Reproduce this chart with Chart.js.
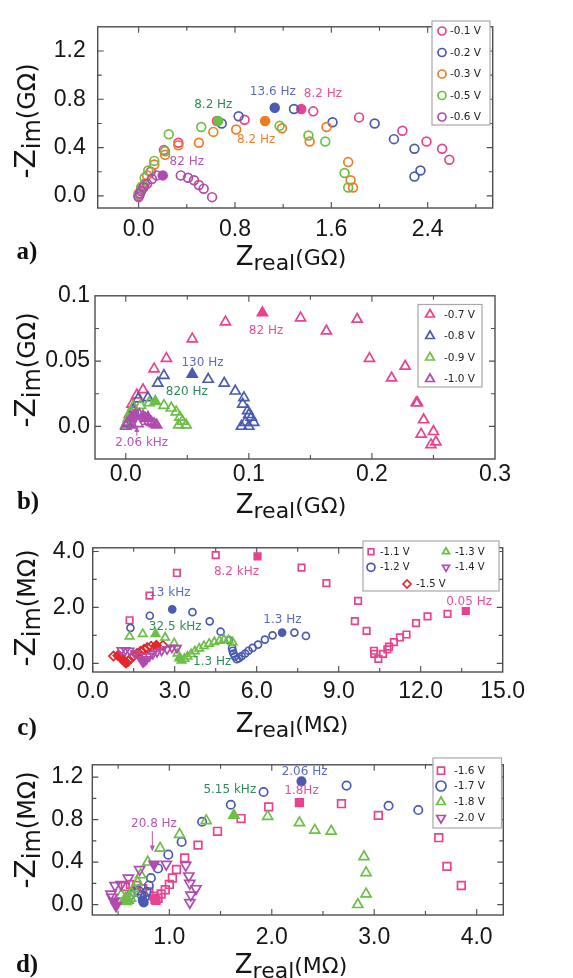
<!DOCTYPE html>
<html>
<head>
<meta charset="utf-8">
<script src="https://cdn.jsdelivr.net/npm/chart.js@4.4.1/dist/chart.umd.min.js"></script>
<style>
  body { margin: 0; background: #fff; width: 573px; height: 978px; position: relative; overflow: hidden; }
  canvas { position: absolute; }
  .ttl { position: absolute; white-space: nowrap; color: #151515; line-height: 1; font-family: 'DejaVu Sans', sans-serif; }
  .ttl.x { transform: translate(-50%, -50%); }
  .ttl.y { transform: translate(-50%, -50%) rotate(-90deg); }
  .ttl .b { font-size: 26px; }
  .ttl .s { font-size: 22px; position: relative; top: 5px; }
  .ttl .u { font-size: 22px; }
  .ttl.y .b { font-size: 28px; }
  .ttl.y .s, .ttl.y .u { font-size: 24px; }
  .tag { position: absolute; transform: translate(-50%, -50%); font-family: 'Liberation Serif', 'Times New Roman', serif; font-weight: bold; font-size: 25px; color: #111; }
</style>
</head>
<body>
<canvas id="pa"></canvas>
<canvas id="pb"></canvas>
<canvas id="pc"></canvas>
<canvas id="pd"></canvas>

<div class="ttl y" style="left:26px;top:121px"><span class="b">-Z</span><span class="s">im</span><span class="u">(GΩ)</span></div>
<div class="ttl x" style="left:291px;top:256px"><span class="b">Z</span><span class="s">real</span><span class="u">(GΩ)</span></div>
<div class="tag" style="left:27px;top:251px">a)</div>

<div class="ttl y" style="left:26px;top:370px"><span class="b">-Z</span><span class="s">im</span><span class="u">(GΩ)</span></div>
<div class="ttl x" style="left:291px;top:504px"><span class="b">Z</span><span class="s">real</span><span class="u">(GΩ)</span></div>
<div class="tag" style="left:28px;top:501px">b)</div>

<div class="ttl y" style="left:26px;top:608px"><span class="b">-Z</span><span class="s">im</span><span class="u">(MΩ)</span></div>
<div class="ttl x" style="left:292px;top:723px"><span class="b">Z</span><span class="s">real</span><span class="u">(MΩ)</span></div>
<div class="tag" style="left:27px;top:727px">c)</div>

<div class="ttl y" style="left:26px;top:830px"><span class="b">-Z</span><span class="s">im</span><span class="u">(MΩ)</span></div>
<div class="ttl x" style="left:291px;top:964px"><span class="b">Z</span><span class="s">real</span><span class="u">(MΩ)</span></div>
<div class="tag" style="left:27px;top:964px">d)</div>

<script>
// ---- panel a: Nyquist data, GΩ ----
const aXTicks = [0, 0.8, 1.6, 2.4];
const aXLabels = ['0.0', '0.8', '1.6', '2.4'];
const aYTicks = [0, 0.4, 0.8, 1.2];
const aYLabels = ['0.0', '0.4', '0.8', '1.2'];
const aXMarks = [0, 0.4, 0.8, 1.2, 1.6, 2.0, 2.4, 2.8];
const aYMarks = [0, 0.2, 0.4, 0.6, 0.8, 1.0, 1.2];

const aV01 = [[0.00,0.00],[0.02,0.04],[0.05,0.10],[0.10,0.20],[0.21,0.38],[0.33,0.44],[0.65,0.62],[0.88,0.63],[1.35,0.72],[1.45,0.70],[1.83,0.65],[2.19,0.54],[2.39,0.45],[2.52,0.39],[2.58,0.30]];
const aV02 = [[0.01,0.02],[0.04,0.08],[0.69,0.60],[0.83,0.66],[1.13,0.73],[1.29,0.72],[1.61,0.61],[1.96,0.60],[2.12,0.47],[2.29,0.39],[2.34,0.21],[2.29,0.16]];
const aV03 = [[0.00,0.02],[0.03,0.08],[0.07,0.17],[0.13,0.26],[0.22,0.34],[0.33,0.42],[0.50,0.44],[0.62,0.53],[0.81,0.55],[1.05,0.62],[1.19,0.56],[1.42,0.45],[1.56,0.57],[1.74,0.28],[1.76,0.13],[1.78,0.07]];
const aV05 = [[0.00,0.01],[0.02,0.07],[0.05,0.15],[0.08,0.21],[0.13,0.29],[0.22,0.37],[0.25,0.51],[0.52,0.57],[0.66,0.62],[1.17,0.58],[1.41,0.50],[1.55,0.45],[1.71,0.19],[1.74,0.07]];
const aV06 = [[0.00,-0.01],[0.01,0.02],[0.02,0.04],[0.04,0.07],[0.07,0.10],[0.11,0.14],[0.15,0.17],[0.20,0.17],[0.35,0.17],[0.41,0.15],[0.46,0.13],[0.50,0.09],[0.54,0.06],[0.61,-0.01]];

// ---- panel b ----
const bXTicks = [0, 0.1, 0.2, 0.3];
const bXLabels = ['0.0', '0.1', '0.2', '0.3'];
const bYTicks = [0, 0.05, 0.1];
const bYLabels = ['0.0', '0.05', '0.1'];
const bXMarks = [0, 0.05, 0.1, 0.15, 0.2, 0.25];
const bYMarks = [0, 0.025, 0.05, 0.075];

const bV07 = [[0.001,0.003],[0.003,0.009],[0.005,0.017],[0.009,0.024],[0.014,0.028],[0.023,0.044],[0.033,0.052],[0.054,0.067],[0.081,0.080],[0.111,0.087],[0.142,0.083],[0.163,0.073],[0.188,0.082],[0.198,0.052],[0.216,0.037],[0.227,0.046],[0.236,0.018],[0.237,0.018],[0.242,0.005],[0.240,-0.006],[0.250,-0.004],[0.248,-0.014],[0.252,-0.012]];
const bV08 = [[0.001,0.002],[0.003,0.007],[0.006,0.013],[0.010,0.021],[0.018,0.022],[0.026,0.033],[0.031,0.039],[0.054,0.040],[0.067,0.036],[0.080,0.033],[0.089,0.027],[0.096,0.022],[0.095,0.017],[0.099,0.012],[0.100,0.009],[0.102,0.007],[0.104,0.003],[0.097,0.003],[0.094,0.000],[0.100,0.000]];
const bV09 = [[0.000,0.001],[0.002,0.006],[0.004,0.011],[0.006,0.015],[0.012,0.016],[0.019,0.018],[0.024,0.019],[0.031,0.016],[0.037,0.014],[0.041,0.011],[0.044,0.007],[0.046,0.004],[0.043,0.001],[0.049,0.001]];
const bV10 = [[0.000,0.000],[0.002,0.003],[0.004,0.006],[0.006,0.008],[0.008,0.009],[0.011,0.009],[0.014,0.008],[0.016,0.006],[0.018,0.007],[0.019,0.004],[0.021,0.003],[0.023,0.002],[0.025,0.001],[0.010,0.002],[0.005,0.001]];

// ---- panel c: MΩ ----
const cXTicks = [0, 3, 6, 9, 12, 15];
const cXLabels = ['0.0', '3.0', '6.0', '9.0', '12.0', '15.0'];
const cYTicks = [0, 2, 4];
const cYLabels = ['0.0', '2.0', '4.0'];
const cXMarks = [0, 1.5, 3, 4.5, 6, 7.5, 9, 10.5, 12, 13.5];
const cYMarks = [0, 1, 2, 3, 4];

const cV11 = [[1.35,1.54],[2.08,2.42],[3.08,3.23],[4.50,3.87],[6.03,3.82],[7.64,3.42],[8.55,2.87],[9.71,2.23],[9.59,1.51],[10.02,1.16],[10.29,0.45],[10.30,0.34],[10.45,0.16],[10.62,0.34],[10.78,0.50],[10.84,0.60],[11.02,0.76],[11.24,0.93],[11.48,1.03],[11.83,1.44],[12.25,1.68],[12.98,1.77],[13.65,1.87]];
const cV12 = [[1.38,1.27],[2.09,1.70],[2.91,1.93],[3.65,1.83],[4.28,1.50],[4.68,1.13],[4.98,0.83],[5.10,0.55],[5.12,0.45],[5.15,0.35],[5.20,0.25],[5.27,0.15],[5.35,0.18],[5.45,0.26],[5.58,0.35],[5.70,0.45],[5.85,0.55],[6.05,0.67],[6.30,0.85],[6.58,1.00],[6.93,1.10],[7.38,1.10],[7.80,0.98]];
const cV13 = [[1.35,0.96],[1.83,1.05],[2.30,1.05],[2.65,0.92],[2.98,0.72],[3.10,0.35],[3.16,0.18],[3.25,0.10],[3.36,0.16],[3.47,0.24],[3.60,0.33],[3.74,0.43],[3.90,0.53],[4.07,0.62],[4.26,0.70],[4.45,0.76],[4.64,0.81],[4.80,0.85],[4.97,0.83],[5.12,0.75]];
const cV14 = [[1.05,0.47],[1.20,0.47],[1.35,0.45],[1.55,0.35],[1.70,0.25],[1.78,0.12],[1.84,0.04],[1.90,0.08],[1.97,0.15],[2.08,0.25],[2.20,0.33],[2.35,0.40],[2.52,0.45],[2.72,0.50],[2.90,0.56],[3.08,0.55]];
const cV15 = [[0.76,0.26],[0.92,0.28],[1.00,0.24],[1.08,0.15],[1.17,0.06],[1.22,0.01],[1.30,0.08],[1.40,0.18],[1.50,0.27],[1.62,0.35],[1.75,0.43],[1.88,0.50],[2.00,0.56],[2.14,0.61],[2.33,0.64],[2.57,0.64]];

// ---- panel d: MΩ ----
const dXTicks = [1, 2, 3, 4];
const dXLabels = ['1.0', '2.0', '3.0', '4.0'];
const dYTicks = [0, 0.4, 0.8, 1.2];
const dYLabels = ['0.0', '0.4', '0.8', '1.2'];
const dXMarks = [0.5, 1, 1.5, 2, 2.5, 3, 3.5, 4];
const dYMarks = [0, 0.2, 0.4, 0.6, 0.8, 1.0, 1.2];

const dV16 = [[0.57,0.17],[0.62,0.19],[0.68,0.18],[0.74,0.15],[0.80,0.12],[0.85,0.08],[0.86,0.05],[0.87,0.04],[0.89,0.06],[0.92,0.10],[0.96,0.14],[1.00,0.19],[1.03,0.25],[1.07,0.33],[1.15,0.44],[1.28,0.56],[1.47,0.69],[1.70,0.81],[1.97,0.92],[2.27,0.96],[2.68,0.95],[3.04,0.84],[3.63,0.63],[3.71,0.36],[3.85,0.18]];
const dV17 = [[0.62,0.09],[0.66,0.12],[0.70,0.13],[0.73,0.09],[0.74,0.04],[0.75,0.02],[0.76,0.07],[0.78,0.12],[0.80,0.18],[0.82,0.25],[0.89,0.34],[0.99,0.47],[1.12,0.59],[1.32,0.78],[1.60,0.94],[1.92,1.06],[2.29,1.16],[2.73,1.12],[3.14,0.93],[3.43,0.89]];
const dV18 = [[0.53,0.09],[0.57,0.06],[0.58,0.03],[0.60,0.04],[0.62,0.06],[0.63,0.11],[0.65,0.15],[0.69,0.21],[0.72,0.28],[0.79,0.40],[0.91,0.53],[1.10,0.66],[1.36,0.79],[1.63,0.84],[1.96,0.83],[2.27,0.77],[2.42,0.70],[2.58,0.69],[2.90,0.45],[2.92,0.30],[2.92,0.10],[2.84,0.00]];
const dV20 = [[0.48,-0.01],[0.46,0.03],[0.44,0.07],[0.43,0.10],[0.47,0.18],[0.53,0.19],[0.60,0.25],[0.71,0.33],[0.85,0.38],[0.97,0.38],[1.16,0.37],[1.19,0.27],[1.20,0.20],[1.26,0.15],[1.21,0.09],[1.20,0.02]];

const PINK = '#e8438f', BLUE = '#4a5bb0', ORANGE = '#f27b22', GREEN = '#6dbf45', PURPLE = '#b04cae', RED = '#e4262c';
const T_PINK = '#ec4e98', T_BLUE = '#5b6cc0', T_GREEN = '#2f8a58', T_ORANGE = '#f0812f', T_PURPLE = '#b657b4';

const TICK_FONT = "'Liberation Sans', Arial, sans-serif";
const NOTE_FONT = "'DejaVu Sans', sans-serif";

// one scatter dataset; `filled` lists indices drawn as solid markers
function series(label, pts, color, style, r, filled, rot) {
  return {
    label,
    data: pts.map(([x, y]) => ({ x, y })),
    pointStyle: style,
    pointRadius: r,
    pointHoverRadius: r,
    pointBorderWidth: 1.7,
    pointRotation: rot || 0,
    pointBorderColor: color,
    borderColor: color,
    pointBackgroundColor: pts.map((_, i) => filled.includes(i) ? color : 'rgba(0,0,0,0)'),
    showLine: false
  };
}

function drawMarker(ctx, style, rot, r, color, x, y) {
  ctx.save();
  ctx.strokeStyle = color;
  ctx.fillStyle = 'rgba(0,0,0,0)';
  ctx.lineWidth = 1.7;
  Chart.helpers.drawPoint(ctx, { pointStyle: style, rotation: rot, radius: r, borderWidth: 1.7 }, x, y);
  ctx.restore();
}

function buildPanel(id, p) {
  const cl = 30, ct = p.top - 14, axisH = 46;
  const canvas = document.getElementById(id);
  const W = 573 - cl, H = p.bottom - p.top + 14 + axisH;
  canvas.width = W; canvas.height = H;
  canvas.style.left = cl + 'px';
  canvas.style.top = ct + 'px';

  // box outline plus inward tick marks on all four sides
  const frame = {
    id: 'frame',
    beforeDatasetsDraw(chart) {
      const { ctx, chartArea: a, scales: { x, y } } = chart;
      ctx.save();
      ctx.strokeStyle = '#4d4d4d';
      ctx.lineWidth = 1.4;
      ctx.strokeRect(a.left, a.top, a.width, a.height);
      ctx.lineWidth = 1.1;
      ctx.beginPath();
      p.xMarks.forEach(v => {
        const px = x.getPixelForValue(v);
        const len = p.xTicks.some(t => Math.abs(t - v) < 1e-9) ? 6 : 4;
        ctx.moveTo(px, a.bottom); ctx.lineTo(px, a.bottom - len);
        ctx.moveTo(px, a.top); ctx.lineTo(px, a.top + len);
      });
      p.yMarks.forEach(v => {
        const py = y.getPixelForValue(v);
        const len = p.yTicks.some(t => Math.abs(t - v) < 1e-9) ? 6 : 4;
        ctx.moveTo(a.left, py); ctx.lineTo(a.left + len, py);
        ctx.moveTo(a.right, py); ctx.lineTo(a.right - len, py);
      });
      ctx.stroke();
      ctx.restore();
    }
  };

  // frequency labels and arrows, placed in data coordinates
  const notes = {
    id: 'notes',
    afterDatasetsDraw(chart) {
      const { ctx, scales: { x, y } } = chart;
      ctx.save();
      ctx.font = p.noteSize + 'px ' + NOTE_FONT;
      ctx.textAlign = 'center';
      ctx.textBaseline = 'middle';
      p.notes.forEach(([text, vx, vy, color]) => {
        ctx.fillStyle = color;
        ctx.fillText(text, x.getPixelForValue(vx), y.getPixelForValue(vy));
      });
      (p.arrows || []).forEach(([vx, y0, y1, color]) => {
        const px = x.getPixelForValue(vx), p0 = y.getPixelForValue(y0), p1 = y.getPixelForValue(y1);
        const dir = Math.sign(p1 - p0);
        ctx.strokeStyle = color; ctx.fillStyle = color; ctx.lineWidth = 1;
        ctx.beginPath(); ctx.moveTo(px, p0); ctx.lineTo(px, p1 - dir * 4); ctx.stroke();
        ctx.beginPath(); ctx.moveTo(px, p1); ctx.lineTo(px - 2.5, p1 - dir * 6); ctx.lineTo(px + 2.5, p1 - dir * 6); ctx.closePath(); ctx.fill();
      });
      ctx.restore();
    }
  };

  // boxed legend inside the plot, page coordinates shifted to the canvas
  const legend = {
    id: 'boxLegend',
    afterDraw(chart) {
      const { ctx } = chart;
      const L = p.legend;
      ctx.save();
      ctx.translate(-cl, -ct);
      ctx.fillStyle = '#fff';
      ctx.fillRect(L.box[0], L.box[1], L.box[2] - L.box[0], L.box[3] - L.box[1]);
      ctx.strokeStyle = '#a8a8a8';
      ctx.lineWidth = 1.2;
      ctx.strokeRect(L.box[0], L.box[1], L.box[2] - L.box[0], L.box[3] - L.box[1]);
      ctx.font = L.font + 'px ' + NOTE_FONT;
      ctx.textAlign = 'left';
      ctx.textBaseline = 'middle';
      L.items.forEach(([label, color, style, rot, mx, my]) => {
        drawMarker(ctx, style, rot, L.r, color, mx, my);
        ctx.fillStyle = '#222';
        ctx.fillText(label, mx + L.gap, my + 0.5);
      });
      ctx.restore();
    }
  };

  const tickFont = { family: TICK_FONT, size: 23 };
  new Chart(canvas, {
    type: 'scatter',
    data: { datasets: p.datasets },
    options: {
      responsive: false,
      animation: false,
      devicePixelRatio: 1,
      layout: { padding: { top: 14, right: 573 - p.right, left: 0, bottom: 0 } },
      plugins: { legend: { display: false }, tooltip: { enabled: false } },
      scales: {
        x: {
          type: 'linear', min: p.xMin, max: p.xMax,
          grid: { display: false, drawTicks: false }, border: { display: false },
          afterBuildTicks: s => { s.ticks = p.xTicks.map(v => ({ value: v })); },
          afterFit: s => { s.height = axisH; },
          ticks: { padding: p.xPad, color: '#161616', font: tickFont, maxRotation: 0, autoSkip: false,
                   callback: (v, i) => p.xLabels[i] }
        },
        y: {
          type: 'linear', min: p.yMin, max: p.yMax,
          grid: { display: false, drawTicks: false }, border: { display: false },
          afterBuildTicks: s => { s.ticks = p.yTicks.map(v => ({ value: v })); },
          afterFit: s => { s.width = p.left - cl; },
          ticks: { padding: p.yPad, color: '#161616', font: tickFont, autoSkip: false,
                   callback: (v, i) => p.yLabels[i] }
        }
      }
    },
    plugins: [frame, notes, legend]
  });
}

buildPanel('pa', {
  left: 97.7, right: 492.7, top: 15, bottom: 208,
  xMin: -0.34, xMax: 2.94, yMin: -0.1, yMax: 1.4,
  xTicks: aXTicks, xLabels: aXLabels, yTicks: aYTicks, yLabels: aYLabels, xMarks: aXMarks, yMarks: aYMarks,
  xPad: 8, yPad: 12,
  datasets: [
    series('-0.6 V', aV06, PURPLE, 'circle', 4.4, [7]),
    series('-0.5 V', aV05, GREEN, 'circle', 4.4, [8]),
    series('-0.3 V', aV03, ORANGE, 'circle', 4.4, [9]),
    series('-0.2 V', aV02, BLUE, 'circle', 4.4, [4]),
    series('-0.1 V', aV01, PINK, 'circle', 4.4, [8])
  ],
  noteSize: 12,
  notes: [
    ['13.6 Hz', 1.114, 0.86, T_BLUE],
    ['8.2 Hz', 1.53, 0.843, T_PINK],
    ['8.2 Hz', 0.62, 0.75, T_GREEN],
    ['8.2 Hz', 0.976, 0.463, T_ORANGE],
    ['82 Hz', 0.40, 0.285, T_PURPLE]
  ],
  legend: { box: [432, 21, 490, 125], font: 10.5, r: 4, gap: 8, items: [
    ['-0.1 V', PINK, 'circle', 0, 442, 31],
    ['-0.2 V', BLUE, 'circle', 0, 442, 52.5],
    ['-0.3 V', ORANGE, 'circle', 0, 442, 74],
    ['-0.5 V', GREEN, 'circle', 0, 442, 95.5],
    ['-0.6 V', PURPLE, 'circle', 0, 442, 117]
  ] }
});

buildPanel('pb', {
  left: 95, right: 495, top: 291, bottom: 459.3,
  xMin: -0.025, xMax: 0.3, yMin: -0.025, yMax: 0.1,
  xTicks: bXTicks, xLabels: bXLabels, yTicks: bYTicks, yLabels: bYLabels, xMarks: bXMarks, yMarks: bYMarks,
  xPad: 2, yPad: 5,
  datasets: [
    series('-1.0 V', bV10, PURPLE, 'triangle', 5.8, [4, 6, 8]),
    series('-0.9 V', bV09, GREEN, 'triangle', 5.8, [6]),
    series('-0.8 V', bV08, BLUE, 'triangle', 5.8, [7]),
    series('-0.7 V', bV07, PINK, 'triangle', 5.8, [9])
  ],
  noteSize: 12,
  notes: [
    ['82 Hz', 0.114, 0.0728, T_PINK],
    ['130 Hz', 0.0623, 0.0489, T_BLUE],
    ['820 Hz', 0.0496, 0.0261, T_GREEN],
    ['2.06 kHz', 0.013, -0.0128, T_PURPLE]
  ],
  arrows: [[0.009, -0.0072, 0.0002, T_PURPLE]],
  legend: { box: [418, 304.5, 482, 387], font: 10.5, r: 5, gap: 14, items: [
    ['-0.7 V', PINK, 'triangle', 0, 430, 314.5],
    ['-0.8 V', BLUE, 'triangle', 0, 430, 336],
    ['-0.9 V', GREEN, 'triangle', 0, 430, 357.5],
    ['-1.0 V', PURPLE, 'triangle', 0, 430, 379]
  ] }
});

buildPanel('pc', {
  left: 92.7, right: 502.7, top: 540, bottom: 672.7,
  xMin: 0, xMax: 15, yMin: -0.31, yMax: 4.13,
  xTicks: cXTicks, xLabels: cXLabels, yTicks: cYTicks, yLabels: cYLabels, xMarks: cXMarks, yMarks: cYMarks,
  xPad: 6, yPad: 8,
  datasets: [
    series('-1.4 V', cV14, PURPLE, 'triangle', 4.8, [5, 6, 7], 180),
    series('-1.3 V', cV13, GREEN, 'triangle', 4.8, [2, 6, 7]),
    series('-1.2 V', cV12, BLUE, 'circle', 3.5, [2, 20]),
    series('-1.5 V', cV15, RED, 'rectRot', 4.6, [1, 3, 4, 5, 14]),
    series('-1.1 V', cV11, PINK, 'rect', 4.6, [4, 22])
  ],
  noteSize: 12,
  notes: [
    ['8.2 kHz', 5.26, 3.26, T_PINK],
    ['13 kHz', 2.82, 2.53, T_BLUE],
    ['32.5 kHz', 3.02, 1.31, T_GREEN],
    ['1.3 Hz', 6.94, 1.56, T_BLUE],
    ['1.3 Hz', 4.37, 0.06, T_GREEN],
    ['0.05 Hz', 13.77, 2.18, T_PINK]
  ],
  legend: { box: [363, 541, 499, 591], font: 10, r: 4, gap: 9, items: [
    ['-1.1 V', PINK, 'rect', 0, 371, 551.7],
    ['-1.2 V', BLUE, 'circle', 0, 371, 567.3],
    ['-1.3 V', GREEN, 'triangle', 0, 446, 551.7],
    ['-1.4 V', PURPLE, 'triangle', 180, 446, 567.3],
    ['-1.5 V', RED, 'rectRot', 0, 407, 584]
  ] }
});

buildPanel('pd', {
  left: 92.3, right: 503.3, top: 756, bottom: 915,
  xMin: 0.248, xMax: 4.26, yMin: -0.098, yMax: 1.316,
  xTicks: dXTicks, xLabels: dXLabels, yTicks: dYTicks, yLabels: dYLabels, xMarks: dXMarks, yMarks: dYMarks,
  xPad: 9, yPad: 9,
  datasets: [
    series('-2.0 V', dV20, PURPLE, 'triangle', 5.8, [0, 1, 8], 180),
    series('-1.8 V', dV18, GREEN, 'triangle', 5.8, [1, 2, 3, 13]),
    series('-1.7 V', dV17, BLUE, 'circle', 4.2, [4, 5, 16]),
    series('-1.6 V', dV16, PINK, 'rect', 5.4, [6, 7, 19])
  ],
  noteSize: 12,
  notes: [
    ['2.06 Hz', 2.32, 1.25, T_BLUE],
    ['5.15 kHz', 1.59, 1.08, T_GREEN],
    ['1.8Hz', 2.29, 1.067, T_PINK],
    ['20.8 Hz', 0.85, 0.76, T_PURPLE]
  ],
  arrows: [[0.834, 0.69, 0.50, T_PURPLE]],
  legend: { box: [433, 758, 501.5, 828], font: 10.5, r: 5, gap: 13, items: [
    ['-1.6 V', PINK, 'rect', 0, 441, 770.7],
    ['-1.7 V', BLUE, 'circle', 0, 441, 786],
    ['-1.8 V', GREEN, 'triangle', 0, 441, 802],
    ['-2.0 V', PURPLE, 'triangle', 180, 441, 818]
  ] }
});
</script>
</body>
</html>
